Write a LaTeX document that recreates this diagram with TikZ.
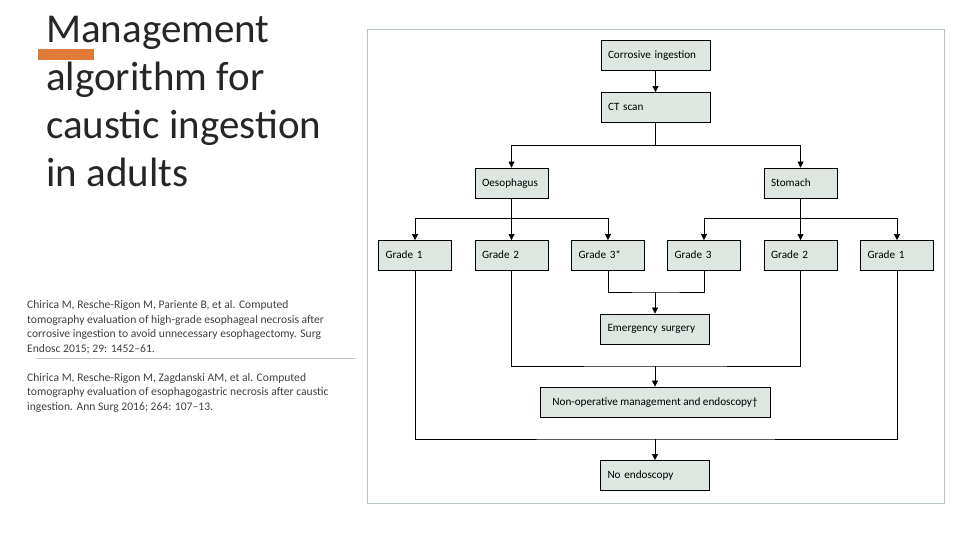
\documentclass[tikz,border=0pt]{standalone}
\usepackage{fontspec}
\setmainfont{Carlito}
\usetikzlibrary{positioning,arrows.meta}
\definecolor{boxfill}{HTML}{DDE6E0}
\definecolor{framecol}{HTML}{B8C8C0}
\definecolor{accent}{HTML}{E07B39}
\definecolor{reftext}{HTML}{404040}
\tikzset{
    stage/.style={draw, thick, fill=boxfill, minimum height=30pt, inner xsep=7pt,
        font=\fontsize{11.2}{13}\selectfont, text depth=.25ex},
    wide/.style={stage, minimum width=109pt, text width=95pt, align=left},
    grade/.style={stage, minimum width=73pt, text width=59pt, align=left},
    flow/.style={semithick, -{Triangle[length=6pt,width=6pt]}},
    link/.style={semithick}
}
\begin{document}
\begin{tikzpicture}[x=1pt, y=-1pt]
    \useasboundingbox (0,0) rectangle (960,540);

    % left panel
    \fill[accent] (38,49) rectangle (94,60);
    \node[anchor=base west, align=left, inner sep=0pt, text=black!85, font=\fontsize{41}{48}\selectfont] (title) at (46,186)
        {Management\\algorithm for\\caustic ingestion\\in adults};
    \draw[gray!50, thick] (37,358) -- (355,358);
    \node[anchor=base west, align=left, inner sep=0pt, text=reftext, font=\fontsize{11.6}{14.5}\selectfont] (refs) at (27,410)
        {Chirica M, Resche-Rigon M, Pariente B, et al. Computed\\
         tomography evaluation of high-grade esophageal necrosis after\\
         corrosive ingestion to avoid unnecessary esophagectomy. Surg\\
         Endosc 2015; 29: 1452–61.\\[14.5pt]
         Chirica M, Resche-Rigon M, Zagdanski AM, et al. Computed\\
         tomography evaluation of esophagogastric necrosis after caustic\\
         ingestion. Ann Surg 2016; 264: 107–13.};

    % flowchart
    \draw[framecol, thick] (367,29) rectangle (944,503);

    \node[wide] (ingest) at (655.5,55) {Corrosive ingestion};
    \node[wide] (ct) at (655.5,107.5) {CT scan};
    \node[grade] (oes) at (511.5,183) {Oesophagus};
    \node[grade] (stom) at (800.5,183) {Stomach};

    \node[grade] (og1) at (415,255.5) {Grade 1};
    \node[grade] (og2) at (511.5,255.5) {Grade 2};
    \node[grade] (og3) at (608,255.5) {Grade 3*};
    \node[grade] (sg3) at (704,255.5) {Grade 3};
    \node[grade] (sg2) at (800.5,255.5) {Grade 2};
    \node[grade] (sg1) at (897,255.5) {Grade 1};

    \node[wide] (surg) at (655,329) {Emergency surgery};
    \node[stage, minimum width=230pt, align=left] (nonop) at (655,402) {Non-operative management and endoscopy\textdagger};
    \node[wide] (noendo) at (655,475.5) {No endoscopy};

    \draw[flow] (ingest) -- (ct);
    \draw[flow] (ct.south) -- ++(0,22) -| (oes.north);
    \draw[flow] (ct.south) -- ++(0,22) -| (stom.north);

    \draw[flow] (oes) -- (og2);
    \draw[flow] (oes.south) -- ++(0,20) -| (og1.north);
    \draw[flow] (oes.south) -- ++(0,20) -| (og3.north);
    \draw[flow] (stom) -- (sg2);
    \draw[flow] (stom.south) -- ++(0,20) -| (sg3.north);
    \draw[flow] (stom.south) -- ++(0,20) -| (sg1.north);

    \draw[link] (og3.south) |- (655,292) -| (sg3.south);
    \draw[flow] (655,292) -- (surg);

    \draw[link] (og2.south) |- (655,366) -| (sg2.south);
    \draw[flow] (655,366) -- (nonop);

    \draw[link] (og1.south) |- (655,439) -| (sg1.south);
    \draw[flow] (655,439) -- (noendo);
\end{tikzpicture}
\end{document}
